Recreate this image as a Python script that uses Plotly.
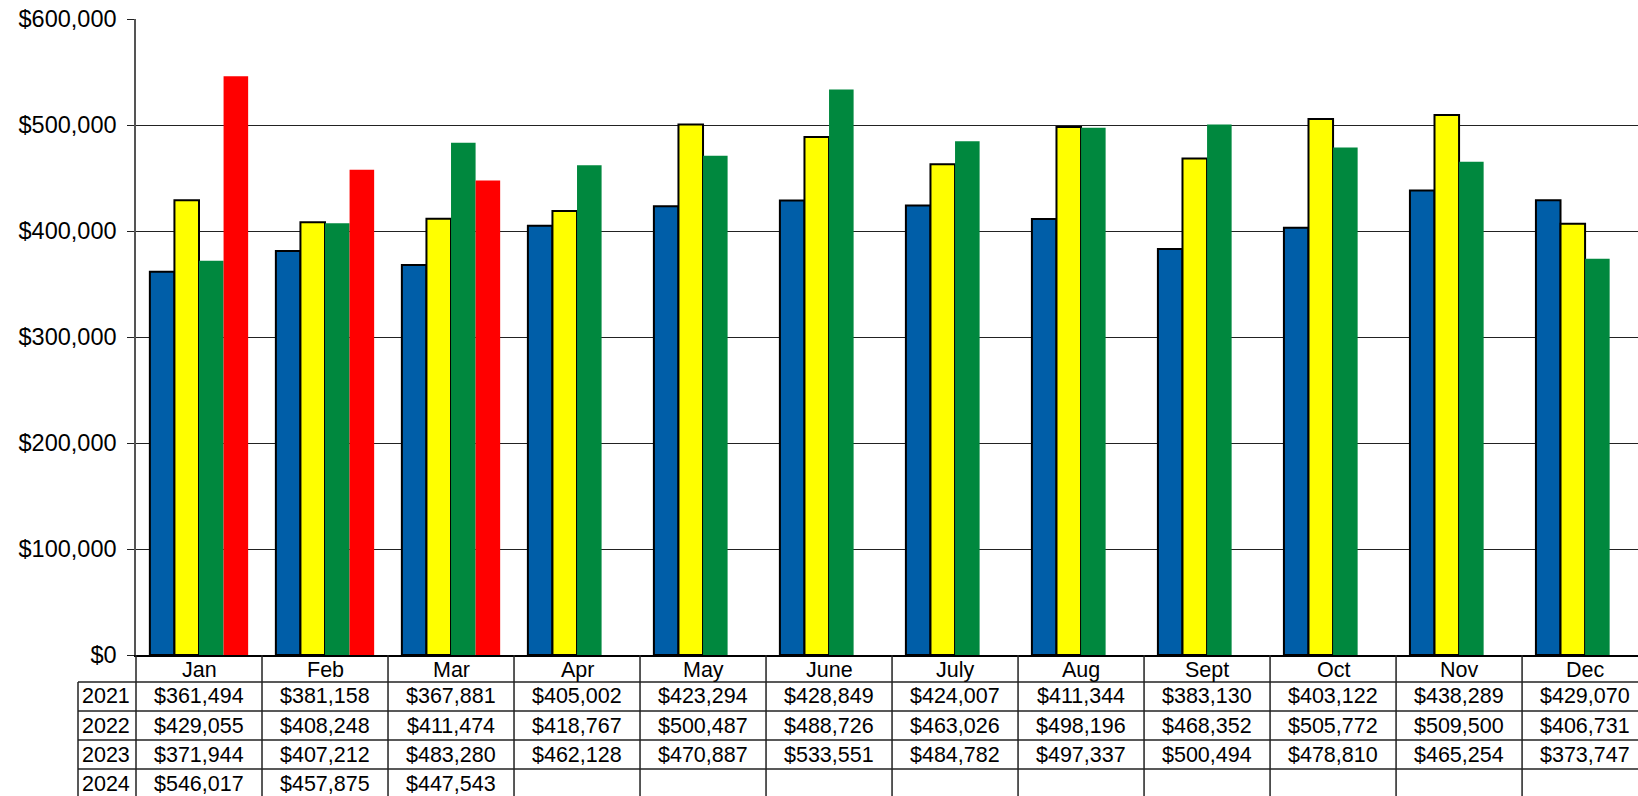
import plotly.graph_objects as go

months = ["Jan", "Feb", "Mar", "Apr", "May", "June", "July", "Aug", "Sept", "Oct", "Nov", "Dec"]
years = ["2021", "2022", "2023", "2024"]
v2021 = [361494, 381158, 367881, 405002, 423294, 428849, 424007, 411344, 383130, 403122, 438289, 429070]
v2022 = [429055, 408248, 411474, 418767, 500487, 488726, 463026, 498196, 468352, 505772, 509500, 406731]
v2023 = [371944, 407212, 483280, 462128, 470887, 533551, 484782, 497337, 500494, 478810, 465254, 373747]
v2024 = [546017, 457875, 447543, None, None, None, None, None, None, None, None, None]
series = [v2021, v2022, v2023, v2024]
colors = ["#005EA8", "#FFFF00", "#00883E", "#FF0000"]
outline = [2, 2, 0, 0]

W, H = 1638, 796
ML, MR, MT, MB = 136, 0, 19, 141
plot_h = H - MT - MB
plot_w = W - ML - MR
xmin, xmax = -0.5, 11.42
FONT = "Liberation Sans, Arial, sans-serif"
TFS = 21.5

fig = go.Figure()
for name, vals, c, lw in zip(years, series, colors, outline):
    fig.add_trace(go.Bar(x=months, y=vals, name=name, hoverinfo="skip",
                         marker=dict(color=c, line=dict(color="black", width=lw))))

def py(px):
    # pixel (from top of page) -> paper y
    return (H - MB - px) / plot_h

shapes = []
annotations = []
zero_px = H - MB
header_bottom = zero_px + 27
row_h = 29
row_lines = [header_bottom + k * row_h for k in range(len(years))]
bottom = py(H + 5)
left_year = (78 - ML) / plot_w

# vertical lines at category boundaries
for i in range(len(months) + 1):
    xb = (i - 0.5 - xmin) / (xmax - xmin)
    if xb > 1.001:
        continue
    shapes.append(dict(type="line", xref="paper", yref="paper", x0=xb, x1=xb, y0=0, y1=bottom,
                       line=dict(color="#222", width=1.5)))
# year column left edge
shapes.append(dict(type="line", xref="paper", yref="paper", x0=left_year, x1=left_year,
                   y0=py(header_bottom), y1=bottom, line=dict(color="#222", width=1.5)))
# horizontal row lines
for rl in row_lines:
    shapes.append(dict(type="line", xref="paper", yref="paper", x0=left_year, x1=1, y0=py(rl), y1=py(rl),
                       line=dict(color="#222", width=1.5)))

# header month labels
for m in months:
    annotations.append(dict(x=m, xref="x", y=py((zero_px + header_bottom) / 2 + 1), yref="paper",
                            text=m, showarrow=False, xanchor="center", yanchor="middle",
                            font=dict(size=TFS, color="black", family=FONT)))
# rows
for r, (yr, vals) in enumerate(zip(years, series)):
    yc = py(row_lines[r] + row_h / 2)
    annotations.append(dict(x=(80 - ML) / plot_w, xref="paper", y=yc, yref="paper", text=yr,
                            showarrow=False, xanchor="left", yanchor="middle",
                            font=dict(size=TFS, color="black", family=FONT)))
    for m, v in zip(months, vals):
        if v is None:
            continue
        annotations.append(dict(x=m, xref="x", y=yc, yref="paper", text="${:,}".format(v),
                                showarrow=False, xanchor="center", yanchor="middle",
                                font=dict(size=TFS, color="black", family=FONT)))

fig.update_layout(
    width=W, height=H,
    margin=dict(l=ML, r=MR, t=MT, b=MB, pad=0),
    paper_bgcolor="white", plot_bgcolor="white",
    barmode="group", bargap=0.22, bargroupgap=0,
    showlegend=False, hovermode=False,
    font=dict(family=FONT, size=20, color="black"),
    xaxis=dict(range=[xmin, xmax], showticklabels=False, ticks="", showgrid=False,
               showline=True, linecolor="black", linewidth=1.5, zeroline=False),
    yaxis=dict(range=[0, 600000], dtick=100000, tickformat="$,.0f", showgrid=True,
               gridcolor="#222", gridwidth=1.3, showline=True, linecolor="#555", linewidth=1.5,
               ticks="outside", ticklen=7, tickcolor="#222", zeroline=False,
               ticklabelstandoff=6,
               tickfont=dict(size=23.5, family=FONT, color="black")),
    shapes=shapes, annotations=annotations,
)
fig.write_html("out.html", config={"displayModeBar": False},
               post_script="document.body.style.margin='0';document.body.style.overflow='hidden';")
